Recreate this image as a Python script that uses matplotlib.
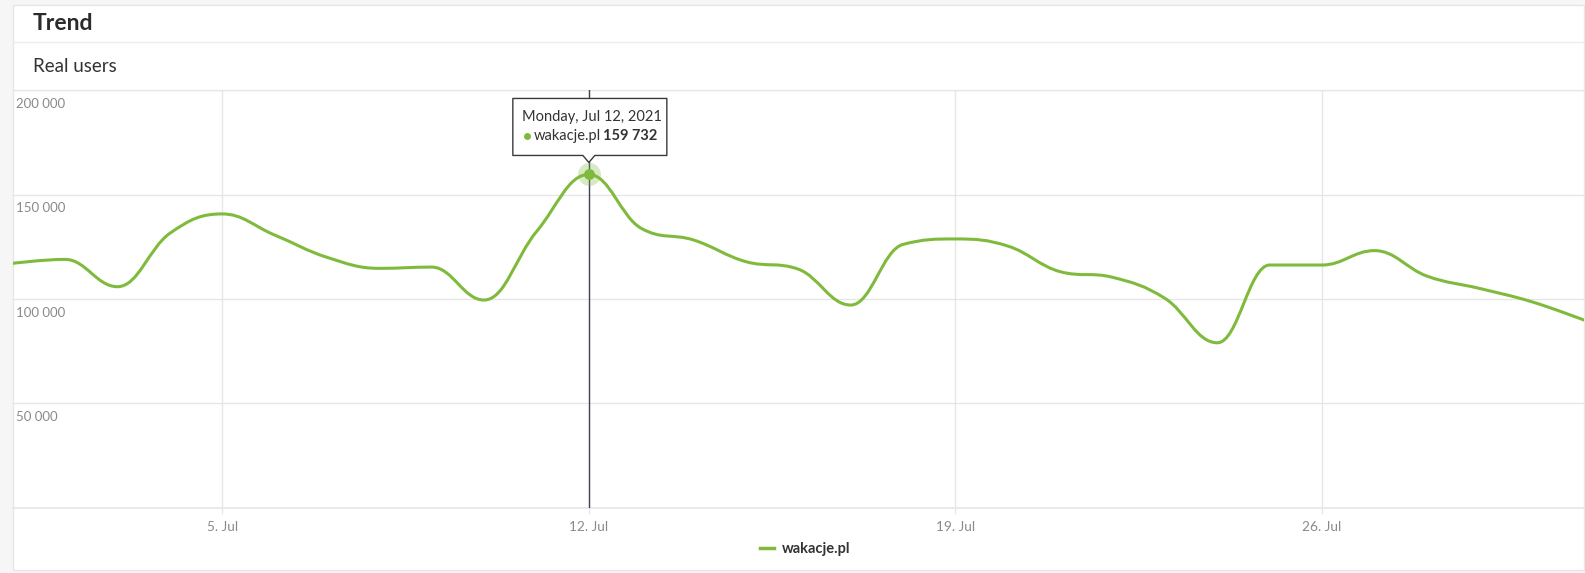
import numpy as np
import matplotlib
matplotlib.use('Agg')
import matplotlib.pyplot as plt
from matplotlib.path import Path
from matplotlib.patches import PathPatch, Polygon, Rectangle
import matplotlib.transforms as mtransforms

# data: daily real users, July 2021
days = list(range(1, 32))
users = [117100, 119000, 105900, 131500, 140800, 130700, 120000, 114700,
         115300, 99500, 132300, 159732, 133900, 128300, 117900, 114300,
         97100, 126200, 128800, 125400, 113100, 110400, 100300, 79000,
         116300, 116300, 123200, 111000, 105100, 98700, 89900]
series_name = 'wakacje.pl'
xtick_days = [5, 12, 19, 26]
xtick_labels = ['5. Jul', '12. Jul', '19. Jul', '26. Jul']
ytick_vals = [50000, 100000, 150000, 200000]
ytick_labels = ['50 000', '100 000', '150 000', '200 000']
hover_day = 12
hover_title = 'Monday, Jul 12, 2021'
hover_value = '159 732'

GREEN = '#80ba3c'
GRID = '#e6e6e6'

plt.rcParams['font.family'] = ['Lato', 'DejaVu Sans']

W, H = 1585, 573
fig = plt.figure(figsize=(W / 100, H / 100), dpi=100, facecolor='#f6f6f6')


def fx(px):
    return px / W


def fy(py):
    return 1 - py / H


# card
card = Rectangle((fx(12.5), fy(570)), fx(1584) - fx(12.5), fy(4.5) - fy(570),
                 transform=fig.transFigure, facecolor='white',
                 edgecolor=GRID, linewidth=1, zorder=-10)
fig.add_artist(card)
fig.add_artist(plt.Line2D([fx(12.5), fx(1584)], [fy(41.5), fy(41.5)],
                          transform=fig.transFigure, color='#ececec', lw=1, zorder=-5))
fig.add_artist(plt.Line2D([fx(12.5), fx(1584)], [fy(90.5), fy(90.5)],
                          transform=fig.transFigure, color='#ececec', lw=1, zorder=-5))

fig.text(fx(33), fy(24), 'Trend', fontsize=16.5, fontweight='bold', color='#2b2b2b',
         va='center', ha='left')
fig.text(fx(33), fy(66), 'Real users', fontsize=13.5, color='#333333',
         va='center', ha='left')

ax = fig.add_axes([fx(12.7), fy(507.5), fx(1584) - fx(12.7), fy(90.5) - fy(507.5)])
ax.set_facecolor('none')
ax.set_xlim(1, 31)
ax.set_ylim(0, 200000)


# Highcharts style spline through the daily values
def spline_path(xs, ys, smoothing=1.5):
    n = len(xs)
    denom = smoothing + 1
    rc = [None] * n
    verts = [(xs[0], ys[0])]
    codes = [Path.MOVETO]
    for i in range(1, n):
        px, py = xs[i], ys[i]
        lx, ly = xs[i - 1], ys[i - 1]
        lcx, lcy = px, py
        if i < n - 1:
            nx, ny = xs[i + 1], ys[i + 1]
            lcx = (smoothing * px + lx) / denom
            lcy = (smoothing * py + ly) / denom
            rcx = (smoothing * px + nx) / denom
            rcy = (smoothing * py + ny) / denom
            corr = 0
            if rcx != lcx:
                corr = (rcy - lcy) * (rcx - px) / (rcx - lcx) + py - rcy
            lcy += corr
            rcy += corr
            if lcy > ly and lcy > py:
                lcy = max(ly, py)
                rcy = 2 * py - lcy
            elif lcy < ly and lcy < py:
                lcy = min(ly, py)
                rcy = 2 * py - lcy
            if rcy > ny and rcy > py:
                rcy = max(ny, py)
                lcy = 2 * py - rcy
            elif rcy < ny and rcy < py:
                rcy = min(ny, py)
                lcy = 2 * py - rcy
            rc[i] = (rcx, rcy)
        prev = rc[i - 1] if rc[i - 1] is not None else (lx, ly)
        verts += [prev, (lcx, lcy), (px, py)]
        codes += [Path.CURVE4, Path.CURVE4, Path.CURVE4]
    return Path(verts, codes)


ax.add_patch(PathPatch(spline_path(days, users), facecolor='none', edgecolor=GREEN,
                       linewidth=2.2, zorder=3, capstyle='round', joinstyle='round'))
# legend proxy
ax.plot([], [], color=GREEN, lw=2.5, label=series_name)

# grid / axes
ax.set_xticks(xtick_days)
ax.set_xticklabels(xtick_labels)
ax.set_yticks([0] + ytick_vals)
ax.set_yticklabels([])
ax.grid(True, color=GRID, lw=1)
ax.tick_params(axis='y', length=0)
ax.tick_params(axis='x', length=4, color=GRID, labelsize=9.8, labelcolor='#8a8a8a', pad=6)
for s in ['top', 'left', 'right']:
    ax.spines[s].set_visible(False)
ax.spines['bottom'].set_color(GRID)
ax.spines['bottom'].set_linewidth(1.2)

for v, lab in zip(ytick_vals, ytick_labels):
    ax.annotate(lab, xy=(0, v), xycoords=('axes fraction', 'data'),
                xytext=(2.5, -5.5), textcoords='offset points', ha='left', va='top',
                fontsize=9.5, color='#8a8a8a')

# hover crosshair + marker
hv = users[days.index(hover_day)]
ax.axvline(hover_day, color='#3c4357', lw=1, zorder=4)
ax.plot([hover_day], [hv], 'o', ms=16.5, color=GREEN, alpha=0.3, mec='none', zorder=5)
ax.plot([hover_day], [hv], 'o', ms=7.8, color=GREEN, mec='none', zorder=6)

# tooltip (shape in pixels around the hovered point)
trans = fig.dpi_scale_trans + mtransforms.ScaledTranslation(hover_day, hv, ax.transData)
box = np.array([(-76, 19), (-6, 19), (0, 12), (6, 19), (78, 19), (78, 76), (-76, 76)]) / 100
ax.add_patch(Polygon(box, closed=True, transform=trans, facecolor='white',
                     edgecolor='#3a3a3a', lw=1, zorder=7, clip_on=False, joinstyle='round'))
ax.text(-67 / 100, 57 / 100, hover_title, transform=trans, fontsize=10.5, color='#333333',
        ha='left', va='center', zorder=8)
ax.plot([-62 / 100], [38.5 / 100], 'o', ms=5, color=GREEN, mec='none', transform=trans,
        zorder=8, clip_on=False)
ax.text(-55 / 100, 38 / 100, series_name, transform=trans, fontsize=10.5, color='#333333',
        ha='left', va='center', zorder=8)
ax.text(14 / 100, 38 / 100, hover_value, transform=trans, fontsize=10.5, color='#333333',
        fontweight='bold', ha='left', va='center', zorder=8)

fig.legend(loc='center', bbox_to_anchor=(fx(805), fy(549)), frameon=False,
           prop={'size': 10.5, 'weight': 'bold'}, handlelength=1.0, handletextpad=0.5,
           labelcolor='#333333')

fig.savefig('out.png', dpi=100, facecolor=fig.get_facecolor())
